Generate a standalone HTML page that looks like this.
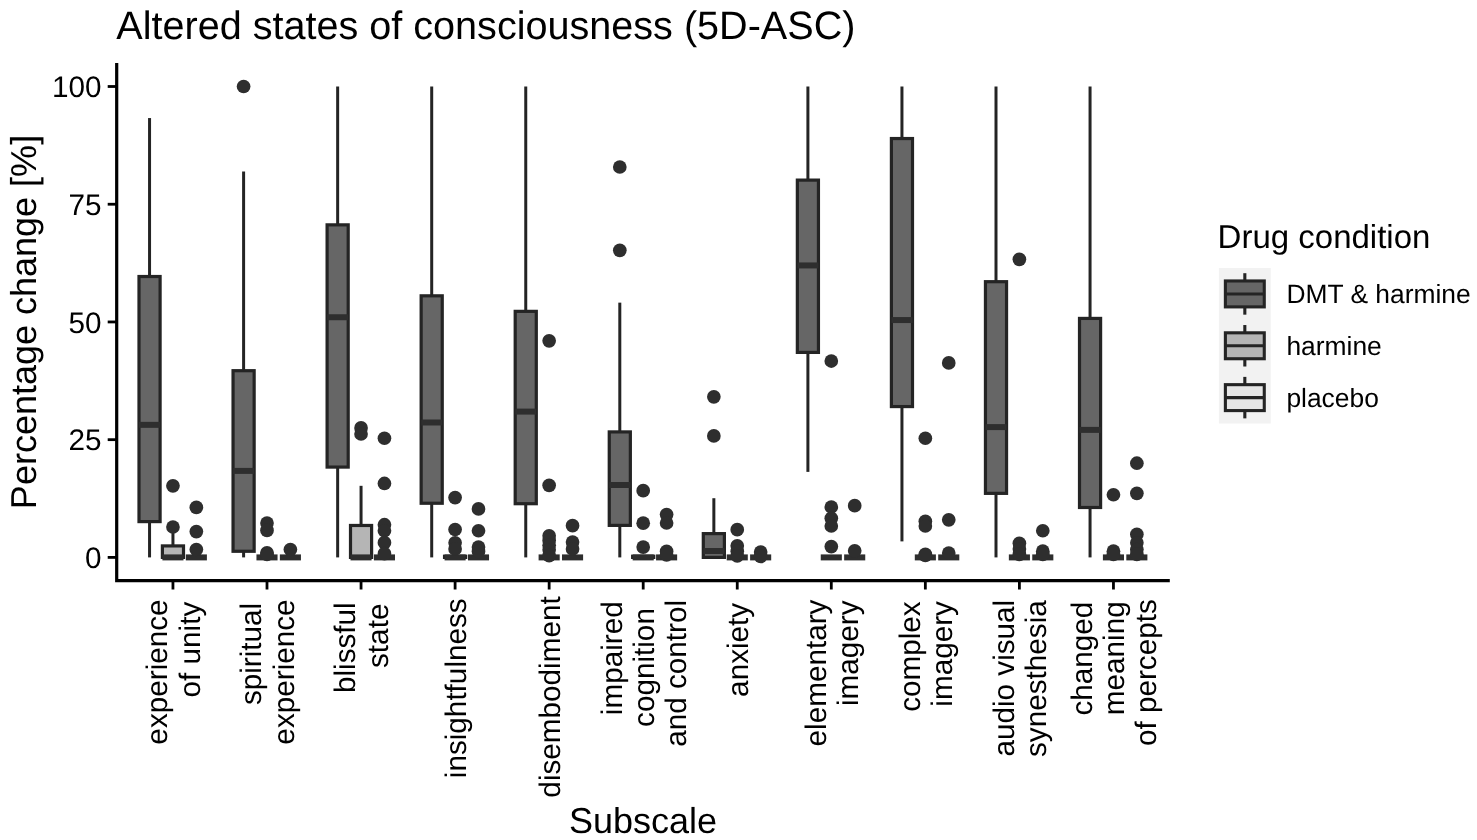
<!DOCTYPE html>
<html><head><meta charset="utf-8"><title>5D-ASC</title>
<style>
html,body{margin:0;padding:0;background:#fff;}
body{width:1477px;height:840px;overflow:hidden;}
svg{display:block;will-change:transform;}
svg text{font-family:"Liberation Sans",sans-serif;fill:#000;text-rendering:geometricPrecision;}
</style></head><body>
<svg width="1477" height="840" viewBox="0 0 1477 840">
<rect width="1477" height="840" fill="#fff"/>
<text x="116.3" y="39.4" font-size="39.6">Altered states of consciousness (5D-ASC)</text>
<text transform="translate(36.4,322) rotate(-90)" text-anchor="middle" font-size="36">Percentage change [%]</text>
<text x="643" y="832.6" text-anchor="middle" font-size="36">Subscale</text>
<text x="101.6" y="568.0" text-anchor="end" font-size="29.7">0</text>
<text x="101.6" y="450.3" text-anchor="end" font-size="29.7">25</text>
<text x="101.6" y="332.6" text-anchor="end" font-size="29.7">50</text>
<text x="101.6" y="214.8" text-anchor="end" font-size="29.7">75</text>
<text x="101.6" y="97.1" text-anchor="end" font-size="29.7">100</text>
<line x1="149.55" x2="149.55" y1="118.05" y2="276.51" stroke="#242424" stroke-width="3.0"/><line x1="149.55" x2="149.55" y1="521.61" y2="557.40" stroke="#242424" stroke-width="3.0"/><rect x="139.00" y="276.51" width="21.10" height="245.10" fill="#666666" stroke="#242424" stroke-width="3.2"/><line x1="139.00" x2="160.10" y1="424.84" y2="424.84" stroke="#2e2e2e" stroke-width="6.0"/>

<line x1="172.95" x2="172.95" y1="526.98" y2="545.91" stroke="#242424" stroke-width="3.0"/><rect x="162.40" y="545.91" width="21.10" height="11.49" fill="#b5b5b5" stroke="#242424" stroke-width="3.2"/><line x1="162.40" x2="183.50" y1="557.40" y2="557.40" stroke="#2e2e2e" stroke-width="6.0"/>
<circle cx="172.95" cy="485.82" r="6.85" fill="#2e2e2e"/><circle cx="172.95" cy="526.98" r="6.85" fill="#2e2e2e"/>
<line x1="185.80" x2="206.90" y1="557.40" y2="557.40" stroke="#2e2e2e" stroke-width="6.0"/>
<circle cx="196.35" cy="507.30" r="6.85" fill="#2e2e2e"/><circle cx="196.35" cy="531.59" r="6.85" fill="#2e2e2e"/><circle cx="196.35" cy="549.49" r="6.85" fill="#2e2e2e"/>
<line x1="243.60" x2="243.60" y1="171.50" y2="370.69" stroke="#242424" stroke-width="3.0"/><line x1="243.60" x2="243.60" y1="551.28" y2="557.40" stroke="#242424" stroke-width="3.0"/><rect x="233.05" y="370.69" width="21.10" height="180.59" fill="#666666" stroke="#242424" stroke-width="3.2"/><line x1="233.05" x2="254.15" y1="470.90" y2="470.90" stroke="#2e2e2e" stroke-width="6.0"/>
<circle cx="243.60" cy="86.50" r="6.85" fill="#2e2e2e"/>
<line x1="256.45" x2="277.55" y1="557.40" y2="557.40" stroke="#2e2e2e" stroke-width="6.0"/>
<circle cx="267.00" cy="523.02" r="6.85" fill="#2e2e2e"/><circle cx="267.00" cy="530.42" r="6.85" fill="#2e2e2e"/><circle cx="267.00" cy="552.88" r="6.85" fill="#2e2e2e"/><circle cx="267.00" cy="554.29" r="6.85" fill="#2e2e2e"/>
<line x1="279.85" x2="300.95" y1="557.40" y2="557.40" stroke="#2e2e2e" stroke-width="6.0"/>
<circle cx="290.40" cy="549.49" r="6.85" fill="#2e2e2e"/>
<line x1="337.65" x2="337.65" y1="86.50" y2="224.85" stroke="#242424" stroke-width="3.0"/><line x1="337.65" x2="337.65" y1="467.08" y2="557.40" stroke="#242424" stroke-width="3.0"/><rect x="327.10" y="224.85" width="21.10" height="242.23" fill="#666666" stroke="#242424" stroke-width="3.2"/><line x1="327.10" x2="348.20" y1="317.24" y2="317.24" stroke="#2e2e2e" stroke-width="6.0"/>

<line x1="361.05" x2="361.05" y1="485.82" y2="525.47" stroke="#242424" stroke-width="3.0"/><rect x="350.50" y="525.47" width="21.10" height="31.93" fill="#b5b5b5" stroke="#242424" stroke-width="3.2"/><line x1="350.50" x2="371.60" y1="557.40" y2="557.40" stroke="#2e2e2e" stroke-width="6.0"/>
<circle cx="361.05" cy="427.90" r="6.85" fill="#2e2e2e"/><circle cx="361.05" cy="434.02" r="6.85" fill="#2e2e2e"/>
<line x1="373.90" x2="395.00" y1="557.40" y2="557.40" stroke="#2e2e2e" stroke-width="6.0"/>
<circle cx="384.45" cy="438.26" r="6.85" fill="#2e2e2e"/><circle cx="384.45" cy="483.47" r="6.85" fill="#2e2e2e"/><circle cx="384.45" cy="524.72" r="6.85" fill="#2e2e2e"/><circle cx="384.45" cy="530.75" r="6.85" fill="#2e2e2e"/><circle cx="384.45" cy="542.66" r="6.85" fill="#2e2e2e"/><circle cx="384.45" cy="553.68" r="6.85" fill="#2e2e2e"/>
<line x1="431.70" x2="431.70" y1="86.50" y2="295.82" stroke="#242424" stroke-width="3.0"/><line x1="431.70" x2="431.70" y1="503.25" y2="557.40" stroke="#242424" stroke-width="3.0"/><rect x="421.15" y="295.82" width="21.10" height="207.43" fill="#666666" stroke="#242424" stroke-width="3.2"/><line x1="421.15" x2="442.25" y1="422.49" y2="422.49" stroke="#2e2e2e" stroke-width="6.0"/>

<line x1="455.10" x2="455.10" y1="556.22" y2="556.22" stroke="#242424" stroke-width="3.0"/><rect x="444.55" y="556.22" width="21.10" height="1.18" fill="#b5b5b5" stroke="#242424" stroke-width="3.2"/><line x1="444.55" x2="465.65" y1="557.40" y2="557.40" stroke="#2e2e2e" stroke-width="6.0"/>
<circle cx="455.10" cy="497.60" r="6.85" fill="#2e2e2e"/><circle cx="455.10" cy="529.48" r="6.85" fill="#2e2e2e"/><circle cx="455.10" cy="542.80" r="6.85" fill="#2e2e2e"/><circle cx="455.10" cy="548.92" r="6.85" fill="#2e2e2e"/>
<line x1="467.95" x2="489.05" y1="557.40" y2="557.40" stroke="#2e2e2e" stroke-width="6.0"/>
<circle cx="478.50" cy="508.90" r="6.85" fill="#2e2e2e"/><circle cx="478.50" cy="530.75" r="6.85" fill="#2e2e2e"/><circle cx="478.50" cy="547.04" r="6.85" fill="#2e2e2e"/><circle cx="478.50" cy="551.42" r="6.85" fill="#2e2e2e"/>
<line x1="525.75" x2="525.75" y1="86.50" y2="311.35" stroke="#242424" stroke-width="3.0"/><line x1="525.75" x2="525.75" y1="503.72" y2="557.40" stroke="#242424" stroke-width="3.0"/><rect x="515.20" y="311.35" width="21.10" height="192.36" fill="#666666" stroke="#242424" stroke-width="3.2"/><line x1="515.20" x2="536.30" y1="411.61" y2="411.61" stroke="#2e2e2e" stroke-width="6.0"/>

<line x1="538.60" x2="559.70" y1="557.40" y2="557.40" stroke="#2e2e2e" stroke-width="6.0"/>
<circle cx="549.15" cy="340.79" r="6.85" fill="#2e2e2e"/><circle cx="549.15" cy="485.35" r="6.85" fill="#2e2e2e"/><circle cx="549.15" cy="535.74" r="6.85" fill="#2e2e2e"/><circle cx="549.15" cy="540.45" r="6.85" fill="#2e2e2e"/><circle cx="549.15" cy="545.16" r="6.85" fill="#2e2e2e"/><circle cx="549.15" cy="549.87" r="6.85" fill="#2e2e2e"/><circle cx="549.15" cy="555.61" r="6.85" fill="#2e2e2e"/>
<line x1="562.00" x2="583.10" y1="557.40" y2="557.40" stroke="#2e2e2e" stroke-width="6.0"/>
<circle cx="572.55" cy="525.71" r="6.85" fill="#2e2e2e"/><circle cx="572.55" cy="542.00" r="6.85" fill="#2e2e2e"/><circle cx="572.55" cy="548.92" r="6.85" fill="#2e2e2e"/>
<line x1="619.80" x2="619.80" y1="302.64" y2="431.91" stroke="#242424" stroke-width="3.0"/><line x1="619.80" x2="619.80" y1="525.38" y2="557.40" stroke="#242424" stroke-width="3.0"/><rect x="609.25" y="431.91" width="21.10" height="93.47" fill="#666666" stroke="#242424" stroke-width="3.2"/><line x1="609.25" x2="630.35" y1="485.02" y2="485.02" stroke="#2e2e2e" stroke-width="6.0"/>
<circle cx="619.80" cy="167.02" r="6.85" fill="#2e2e2e"/><circle cx="619.80" cy="250.37" r="6.85" fill="#2e2e2e"/>
<line x1="643.20" x2="643.20" y1="556.22" y2="556.22" stroke="#242424" stroke-width="3.0"/><rect x="632.65" y="556.22" width="21.10" height="1.18" fill="#b5b5b5" stroke="#242424" stroke-width="3.2"/><line x1="632.65" x2="653.75" y1="557.40" y2="557.40" stroke="#2e2e2e" stroke-width="6.0"/>
<circle cx="643.20" cy="490.67" r="6.85" fill="#2e2e2e"/><circle cx="643.20" cy="523.21" r="6.85" fill="#2e2e2e"/><circle cx="643.20" cy="547.04" r="6.85" fill="#2e2e2e"/>
<line x1="656.05" x2="677.15" y1="557.40" y2="557.40" stroke="#2e2e2e" stroke-width="6.0"/>
<circle cx="666.60" cy="514.55" r="6.85" fill="#2e2e2e"/><circle cx="666.60" cy="523.02" r="6.85" fill="#2e2e2e"/><circle cx="666.60" cy="551.42" r="6.85" fill="#2e2e2e"/><circle cx="666.60" cy="554.90" r="6.85" fill="#2e2e2e"/>
<line x1="713.85" x2="713.85" y1="498.21" y2="533.62" stroke="#242424" stroke-width="3.0"/><rect x="703.30" y="533.62" width="21.10" height="23.78" fill="#666666" stroke="#242424" stroke-width="3.2"/><line x1="703.30" x2="724.40" y1="551.00" y2="551.00" stroke="#2e2e2e" stroke-width="6.0"/>
<circle cx="713.85" cy="396.82" r="6.85" fill="#2e2e2e"/><circle cx="713.85" cy="435.91" r="6.85" fill="#2e2e2e"/>
<line x1="726.70" x2="747.80" y1="557.40" y2="557.40" stroke="#2e2e2e" stroke-width="6.0"/>
<circle cx="737.25" cy="529.71" r="6.85" fill="#2e2e2e"/><circle cx="737.25" cy="545.77" r="6.85" fill="#2e2e2e"/><circle cx="737.25" cy="551.28" r="6.85" fill="#2e2e2e"/><circle cx="737.25" cy="555.80" r="6.85" fill="#2e2e2e"/>
<line x1="750.10" x2="771.20" y1="557.40" y2="557.40" stroke="#2e2e2e" stroke-width="6.0"/>
<circle cx="760.65" cy="552.03" r="6.85" fill="#2e2e2e"/><circle cx="760.65" cy="556.46" r="6.85" fill="#2e2e2e"/>
<line x1="807.90" x2="807.90" y1="86.50" y2="180.11" stroke="#242424" stroke-width="3.0"/><line x1="807.90" x2="807.90" y1="352.42" y2="471.88" stroke="#242424" stroke-width="3.0"/><rect x="797.35" y="180.11" width="21.10" height="172.30" fill="#666666" stroke="#242424" stroke-width="3.2"/><line x1="797.35" x2="818.45" y1="265.44" y2="265.44" stroke="#2e2e2e" stroke-width="6.0"/>

<line x1="820.75" x2="841.85" y1="557.40" y2="557.40" stroke="#2e2e2e" stroke-width="6.0"/>
<circle cx="831.30" cy="361.03" r="6.85" fill="#2e2e2e"/><circle cx="831.30" cy="507.01" r="6.85" fill="#2e2e2e"/><circle cx="831.30" cy="518.22" r="6.85" fill="#2e2e2e"/><circle cx="831.30" cy="525.99" r="6.85" fill="#2e2e2e"/><circle cx="831.30" cy="546.62" r="6.85" fill="#2e2e2e"/>
<line x1="844.15" x2="865.25" y1="557.40" y2="557.40" stroke="#2e2e2e" stroke-width="6.0"/>
<circle cx="854.70" cy="505.70" r="6.85" fill="#2e2e2e"/><circle cx="854.70" cy="550.81" r="6.85" fill="#2e2e2e"/>
<line x1="901.95" x2="901.95" y1="86.50" y2="138.53" stroke="#242424" stroke-width="3.0"/><line x1="901.95" x2="901.95" y1="406.57" y2="541.39" stroke="#242424" stroke-width="3.0"/><rect x="891.40" y="138.53" width="21.10" height="268.04" fill="#666666" stroke="#242424" stroke-width="3.2"/><line x1="891.40" x2="912.50" y1="320.07" y2="320.07" stroke="#2e2e2e" stroke-width="6.0"/>

<line x1="914.80" x2="935.90" y1="557.40" y2="557.40" stroke="#2e2e2e" stroke-width="6.0"/>
<circle cx="925.35" cy="438.26" r="6.85" fill="#2e2e2e"/><circle cx="925.35" cy="521.33" r="6.85" fill="#2e2e2e"/><circle cx="925.35" cy="525.99" r="6.85" fill="#2e2e2e"/><circle cx="925.35" cy="554.29" r="6.85" fill="#2e2e2e"/><circle cx="925.35" cy="555.52" r="6.85" fill="#2e2e2e"/>
<line x1="938.20" x2="959.30" y1="557.40" y2="557.40" stroke="#2e2e2e" stroke-width="6.0"/>
<circle cx="948.75" cy="362.92" r="6.85" fill="#2e2e2e"/><circle cx="948.75" cy="519.82" r="6.85" fill="#2e2e2e"/><circle cx="948.75" cy="553.02" r="6.85" fill="#2e2e2e"/>
<line x1="996.00" x2="996.00" y1="86.50" y2="281.69" stroke="#242424" stroke-width="3.0"/><line x1="996.00" x2="996.00" y1="493.36" y2="557.40" stroke="#242424" stroke-width="3.0"/><rect x="985.45" y="281.69" width="21.10" height="211.67" fill="#666666" stroke="#242424" stroke-width="3.2"/><line x1="985.45" x2="1006.55" y1="427.10" y2="427.10" stroke="#2e2e2e" stroke-width="6.0"/>

<line x1="1008.85" x2="1029.95" y1="557.40" y2="557.40" stroke="#2e2e2e" stroke-width="6.0"/>
<circle cx="1019.40" cy="259.32" r="6.85" fill="#2e2e2e"/><circle cx="1019.40" cy="543.27" r="6.85" fill="#2e2e2e"/><circle cx="1019.40" cy="548.92" r="6.85" fill="#2e2e2e"/><circle cx="1019.40" cy="554.29" r="6.85" fill="#2e2e2e"/>
<line x1="1032.25" x2="1053.35" y1="557.40" y2="557.40" stroke="#2e2e2e" stroke-width="6.0"/>
<circle cx="1042.80" cy="530.75" r="6.85" fill="#2e2e2e"/><circle cx="1042.80" cy="551.14" r="6.85" fill="#2e2e2e"/><circle cx="1042.80" cy="554.29" r="6.85" fill="#2e2e2e"/>
<line x1="1090.05" x2="1090.05" y1="86.50" y2="318.42" stroke="#242424" stroke-width="3.0"/><line x1="1090.05" x2="1090.05" y1="507.48" y2="557.40" stroke="#242424" stroke-width="3.0"/><rect x="1079.50" y="318.42" width="21.10" height="189.07" fill="#666666" stroke="#242424" stroke-width="3.2"/><line x1="1079.50" x2="1100.60" y1="429.88" y2="429.88" stroke="#2e2e2e" stroke-width="6.0"/>

<line x1="1102.90" x2="1124.00" y1="557.40" y2="557.40" stroke="#2e2e2e" stroke-width="6.0"/>
<circle cx="1113.45" cy="494.77" r="6.85" fill="#2e2e2e"/><circle cx="1113.45" cy="551.14" r="6.85" fill="#2e2e2e"/><circle cx="1113.45" cy="554.29" r="6.85" fill="#2e2e2e"/>
<line x1="1126.30" x2="1147.40" y1="557.40" y2="557.40" stroke="#2e2e2e" stroke-width="6.0"/>
<circle cx="1136.85" cy="463.22" r="6.85" fill="#2e2e2e"/><circle cx="1136.85" cy="493.36" r="6.85" fill="#2e2e2e"/><circle cx="1136.85" cy="534.33" r="6.85" fill="#2e2e2e"/><circle cx="1136.85" cy="542.80" r="6.85" fill="#2e2e2e"/><circle cx="1136.85" cy="549.49" r="6.85" fill="#2e2e2e"/><circle cx="1136.85" cy="554.29" r="6.85" fill="#2e2e2e"/>
<path d="M116.7 62.9V580.7H1169.8" fill="none" stroke="#000" stroke-width="3.2" stroke-linecap="butt" stroke-linejoin="miter"/>
<line x1="107.7" x2="116.7" y1="557.40" y2="557.40" stroke="#000" stroke-width="2.8"/><line x1="107.7" x2="116.7" y1="439.67" y2="439.67" stroke="#000" stroke-width="2.8"/><line x1="107.7" x2="116.7" y1="321.95" y2="321.95" stroke="#000" stroke-width="2.8"/><line x1="107.7" x2="116.7" y1="204.23" y2="204.23" stroke="#000" stroke-width="2.8"/><line x1="107.7" x2="116.7" y1="86.50" y2="86.50" stroke="#000" stroke-width="2.8"/>
<line x1="172.95" x2="172.95" y1="580.7" y2="589.5" stroke="#000" stroke-width="2.8"/><line x1="267.00" x2="267.00" y1="580.7" y2="589.5" stroke="#000" stroke-width="2.8"/><line x1="361.05" x2="361.05" y1="580.7" y2="589.5" stroke="#000" stroke-width="2.8"/><line x1="455.10" x2="455.10" y1="580.7" y2="589.5" stroke="#000" stroke-width="2.8"/><line x1="549.15" x2="549.15" y1="580.7" y2="589.5" stroke="#000" stroke-width="2.8"/><line x1="643.20" x2="643.20" y1="580.7" y2="589.5" stroke="#000" stroke-width="2.8"/><line x1="737.25" x2="737.25" y1="580.7" y2="589.5" stroke="#000" stroke-width="2.8"/><line x1="831.30" x2="831.30" y1="580.7" y2="589.5" stroke="#000" stroke-width="2.8"/><line x1="925.35" x2="925.35" y1="580.7" y2="589.5" stroke="#000" stroke-width="2.8"/><line x1="1019.40" x2="1019.40" y1="580.7" y2="589.5" stroke="#000" stroke-width="2.8"/><line x1="1113.45" x2="1113.45" y1="580.7" y2="589.5" stroke="#000" stroke-width="2.8"/>
<text transform="translate(167.3,599.4) rotate(-90)" text-anchor="end" font-size="29.7">experience</text><text transform="translate(199.6,601.7) rotate(-90)" text-anchor="end" font-size="29.7">of unity</text>
<text transform="translate(261.4,602.8) rotate(-90)" text-anchor="end" font-size="29.7">spiritual</text><text transform="translate(293.7,599.4) rotate(-90)" text-anchor="end" font-size="29.7">experience</text>
<text transform="translate(355.4,602.3) rotate(-90)" text-anchor="end" font-size="29.7">blissful</text><text transform="translate(387.7,603.6) rotate(-90)" text-anchor="end" font-size="29.7">state</text>
<text transform="translate(465.6,598.3) rotate(-90)" text-anchor="end" font-size="29.7">insightfulness</text>
<text transform="translate(559.7,596.3) rotate(-90)" text-anchor="end" font-size="29.7">disembodiment</text>
<text transform="translate(621.5,601.3) rotate(-90)" text-anchor="end" font-size="29.7">impaired</text><text transform="translate(653.8,608.1) rotate(-90)" text-anchor="end" font-size="29.7">cognition</text><text transform="translate(686.1,599.9) rotate(-90)" text-anchor="end" font-size="29.7">and control</text>
<text transform="translate(747.8,602.8) rotate(-90)" text-anchor="end" font-size="29.7">anxiety</text>
<text transform="translate(825.7,599.6) rotate(-90)" text-anchor="end" font-size="29.7">elementary</text><text transform="translate(858.0,600.4) rotate(-90)" text-anchor="end" font-size="29.7">imagery</text>
<text transform="translate(919.8,601.3) rotate(-90)" text-anchor="end" font-size="29.7">complex</text><text transform="translate(952.0,601.1) rotate(-90)" text-anchor="end" font-size="29.7">imagery</text>
<text transform="translate(1013.8,599.8) rotate(-90)" text-anchor="end" font-size="29.7">audio visual</text><text transform="translate(1046.1,600.2) rotate(-90)" text-anchor="end" font-size="29.7">synesthesia</text>
<text transform="translate(1091.7,601.7) rotate(-90)" text-anchor="end" font-size="29.7">changed</text><text transform="translate(1124.0,601.3) rotate(-90)" text-anchor="end" font-size="29.7">meaning</text><text transform="translate(1156.3,599.2) rotate(-90)" text-anchor="end" font-size="29.7">of percepts</text>
<text x="1217.6" y="248.4" font-size="33">Drug condition</text>
<rect x="1218.9" y="268.0" width="51.85" height="155.55" fill="#f2f2f2"/>
<line x1="1244.83" x2="1244.83" y1="273.19" y2="280.96" stroke="#242424" stroke-width="3.1"/><line x1="1244.83" x2="1244.83" y1="306.89" y2="314.67" stroke="#242424" stroke-width="3.1"/><rect x="1225.38" y="280.96" width="38.89" height="25.93" fill="#666666" stroke="#242424" stroke-width="3.1"/><line x1="1225.38" x2="1264.27" y1="293.93" y2="293.93" stroke="#242424" stroke-width="3.1"/><text x="1286.4" y="303.3" font-size="26.4">DMT &amp; harmine</text>
<line x1="1244.83" x2="1244.83" y1="325.03" y2="332.81" stroke="#242424" stroke-width="3.1"/><line x1="1244.83" x2="1244.83" y1="358.74" y2="366.51" stroke="#242424" stroke-width="3.1"/><rect x="1225.38" y="332.81" width="38.89" height="25.93" fill="#b5b5b5" stroke="#242424" stroke-width="3.1"/><line x1="1225.38" x2="1264.27" y1="345.77" y2="345.77" stroke="#242424" stroke-width="3.1"/><text x="1286.4" y="355.2" font-size="26.4">harmine</text>
<line x1="1244.83" x2="1244.83" y1="376.88" y2="384.66" stroke="#242424" stroke-width="3.1"/><line x1="1244.83" x2="1244.83" y1="410.59" y2="418.37" stroke="#242424" stroke-width="3.1"/><rect x="1225.38" y="384.66" width="38.89" height="25.93" fill="#e6e6e6" stroke="#242424" stroke-width="3.1"/><line x1="1225.38" x2="1264.27" y1="397.62" y2="397.62" stroke="#242424" stroke-width="3.1"/><text x="1286.4" y="407.0" font-size="26.4">placebo</text>
</svg>
</body></html>
